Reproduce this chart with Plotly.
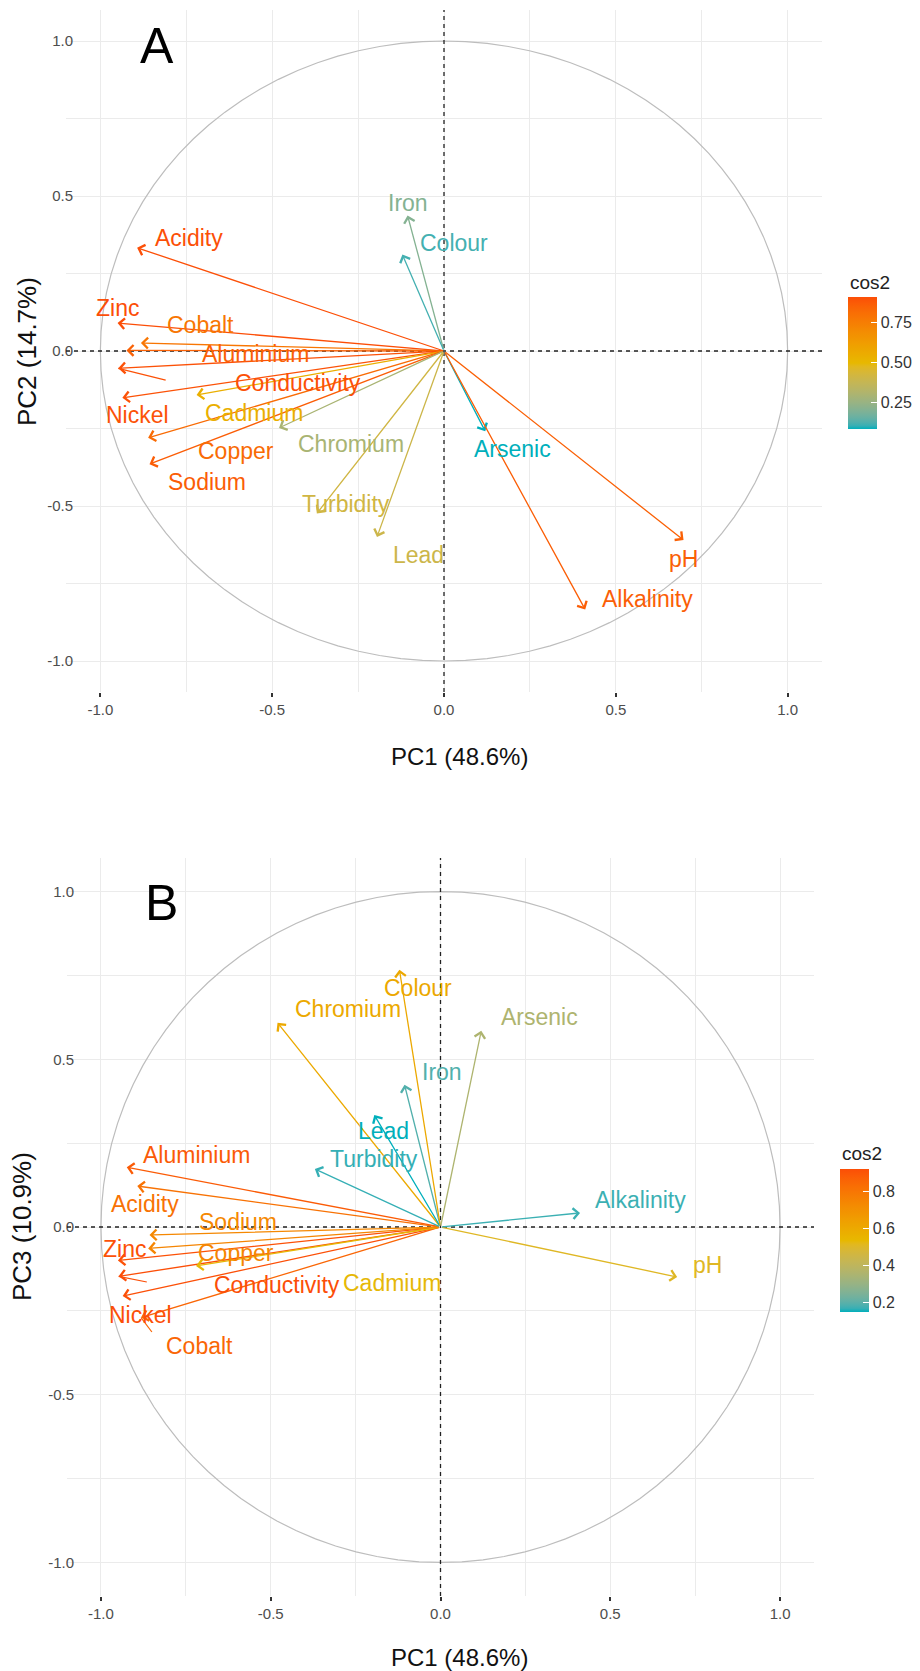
import numpy as np
import plotly.graph_objects as go

# ---------------- data ----------------
variables = ["Acidity", "Zinc", "Cobalt", "Aluminium", "Conductivity", "Nickel",
             "Cadmium", "Copper", "Sodium", "Chromium", "Turbidity", "Lead",
             "Iron", "Colour", "Arsenic", "pH", "Alkalinity"]
pc1 = [-0.893, -0.950, -0.882, -0.924, -0.948, -0.936, -0.720, -0.861, -0.857,
       -0.480, -0.370, -0.195, -0.106, -0.121, 0.120, 0.697, 0.411]
pc2 = [0.333, 0.090, 0.026, 0.002, -0.056, -0.151, -0.142, -0.280, -0.365,
       -0.248, -0.524, -0.600, 0.437, 0.311, -0.259, -0.610, -0.834]
pc3 = [0.122, -0.100, -0.270, 0.178, -0.147, -0.206, -0.116, -0.064, -0.024,
       0.609, 0.173, 0.334, 0.424, 0.767, 0.585, -0.149, 0.042]

# repelled label anchors (data units)
labA_x = [-0.743, -0.950, -0.708, -0.548, -0.426, -0.892, -0.554, -0.606, -0.691,
          -0.271, -0.286, -0.073, -0.105, 0.029, 0.198, 0.697, 0.592]
labA_y = [0.366, 0.139, 0.084, -0.010, -0.104, -0.207, -0.201, -0.324, -0.421,
          -0.301, -0.492, -0.657, 0.479, 0.350, -0.317, -0.670, -0.799]
labB_x = [-0.871, -0.932, -0.709, -0.718, -0.482, -0.885, -0.144, -0.603, -0.597,
          -0.271, -0.197, -0.168, 0.003, -0.065, 0.291, 0.785, 0.588]
labB_y = [0.069, -0.066, -0.355, 0.215, -0.173, -0.263, -0.167, -0.078, 0.015,
          0.651, 0.203, 0.287, 0.463, 0.713, 0.627, -0.113, 0.081]
# label connector segments (ggrepel): variable -> segment end
connA = {"Conductivity": (-0.81, -0.094)}
connB = {"Conductivity": (-0.865, -0.164), "Cobalt": (-0.85, -0.313)}

ticksA = [0.25, 0.50, 0.75]
ticksB = [0.2, 0.4, 0.6, 0.8]

grad = ["#00AFBB", "#E7B800", "#FC4E07"]

W, H = 920, 1671
FONT = "Liberation Sans, Arial, sans-serif"


# ---------------- colour helpers (Lab interpolation like ggplot) ----------------
def hex2rgb(h):
    h = h.lstrip("#")
    return [int(h[i:i + 2], 16) for i in (0, 2, 4)]


def rgb2lab(rgb):
    def lin(c):
        c = c / 255
        return c / 12.92 if c <= 0.04045 else ((c + 0.055) / 1.055) ** 2.4
    r, g, b = [lin(c) for c in rgb]
    X = (0.4124 * r + 0.3576 * g + 0.1805 * b) / 0.95047
    Y = (0.2126 * r + 0.7152 * g + 0.0722 * b)
    Z = (0.0193 * r + 0.1192 * g + 0.9505 * b) / 1.08883

    def f(t):
        return t ** (1 / 3) if t > 0.008856 else 7.787 * t + 16 / 116
    return [116 * f(Y) - 16, 500 * (f(X) - f(Y)), 200 * (f(Y) - f(Z))]


def lab2rgb(lab):
    L, a, b = lab
    fy = (L + 16) / 116
    fx = fy + a / 500
    fz = fy - b / 200

    def finv(t):
        return t ** 3 if t ** 3 > 0.008856 else (t - 16 / 116) / 7.787
    X, Y, Z = finv(fx) * 0.95047, finv(fy), finv(fz) * 1.08883
    r = 3.2406 * X - 1.5372 * Y - 0.4986 * Z
    g = -0.9689 * X + 1.8758 * Y + 0.0415 * Z
    bb = 0.0557 * X - 0.2040 * Y + 1.0570 * Z

    def gam(c):
        c = 12.92 * c if c <= 0.0031308 else 1.055 * c ** (1 / 2.4) - 0.055
        return int(round(min(max(c, 0), 1) * 255))
    return "rgb(%d,%d,%d)" % (gam(r), gam(g), gam(bb))


labs = [rgb2lab(hex2rgb(c)) for c in grad]


def colour_at(t):
    t = min(max(t, 0), 1)
    if t <= 0.5:
        a, b, u = labs[0], labs[1], t / 0.5
    else:
        a, b, u = labs[1], labs[2], (t - 0.5) / 0.5
    return lab2rgb([a[i] + (b[i] - a[i]) * u for i in range(3)])


colorscale = [[i / 40, colour_at(i / 40)] for i in range(41)]

# ---------------- geometry in pixels ----------------
panels = {
    "A": dict(xdom=(66, 822), ydom=(10, 692), xa="x", ya="y", xid="xaxis", yid="yaxis",
              comp=pc2, labx=labA_x, laby=labA_y, conn=connA, ticks=ticksA,
              cb=dict(x=848, y0=297, y1=429), cbt=(848, 283),
              xt=(459, 757), yt=(27, 352), letter=(157, 46), L="A",
              ytitle="PC2 (14.7%)"),
    "B": dict(xdom=(67, 814), ydom=(858, 1596), xa="x2", ya="y2", xid="xaxis2", yid="yaxis2",
              comp=pc3, labx=labB_x, laby=labB_y, conn=connB, ticks=ticksB,
              cb=dict(x=840, y0=1169, y1=1312), cbt=(840, 1153),
              xt=(459, 1657), yt=(22, 1227), letter=(161, 903), L="B",
              ytitle="PC3 (10.9%)"),
}

fig = go.Figure()
annotations = []
shapes = []
layout_axes = {}

theta = np.linspace(0, 2 * np.pi, 101)

for key, p in panels.items():
    xs = np.array(pc1)
    ys = np.array(p["comp"])
    cos2 = xs ** 2 + ys ** 2
    cmin, cmax = float(cos2.min()), float(cos2.max())
    cols = [colour_at((c - cmin) / (cmax - cmin)) for c in cos2]

    axis_common = dict(range=[-1.1, 1.1], showgrid=True, gridcolor="#EBEBEB", gridwidth=1.2,
                       zeroline=False, showline=False,
                       tickvals=[-1.0, -0.5, 0.0, 0.5, 1.0],
                       ticktext=["-1.0", "-0.5", "0.0", "0.5", "1.0"],
                       tickfont=dict(family=FONT, size=15, color="#4D4D4D"),
                       minor=dict(dtick=0.25, tick0=0, showgrid=True, gridcolor="#EBEBEB",
                                  gridwidth=1.0, ticks=""))
    layout_axes[p["xid"]] = dict(axis_common, domain=[p["xdom"][0] / W, p["xdom"][1] / W],
                                 anchor=p["ya"], ticks="outside", ticklen=4,
                                 tickcolor="#333333", tickwidth=1.5)
    layout_axes[p["yid"]] = dict(axis_common, domain=[1 - p["ydom"][1] / H, 1 - p["ydom"][0] / H],
                                 anchor=p["xa"], ticks="", ticklabelstandoff=-8)

    # unit circle
    fig.add_trace(go.Scatter(x=np.cos(theta), y=np.sin(theta), mode="lines",
                             line=dict(color="#BDBDBD", width=1.2),
                             xaxis=p["xa"], yaxis=p["ya"], hoverinfo="skip",
                             showlegend=False))

    # dashed reference lines
    for (x0, y0, x1, y1) in [(-1.1, 0, 1.1, 0), (0, -1.1, 0, 1.1)]:
        shapes.append(dict(type="line", xref=p["xa"], yref=p["ya"], x0=x0, y0=y0, x1=x1, y1=y1,
                           line=dict(color="#222222", width=1.3, dash="4px,4px"), layer="above"))

    # connectors
    for name, (ex, ey) in p["conn"].items():
        i = variables.index(name)
        fig.add_trace(go.Scatter(x=[xs[i], ex], y=[ys[i], ey], mode="lines",
                                 line=dict(color=cols[i], width=1.2),
                                 xaxis=p["xa"], yaxis=p["ya"], hoverinfo="skip",
                                 showlegend=False))

    # arrows
    for i, v in enumerate(variables):
        annotations.append(dict(x=xs[i], y=ys[i], ax=0, ay=0, xref=p["xa"], yref=p["ya"],
                                axref=p["xa"], ayref=p["ya"], text="", showarrow=True,
                                arrowhead=4, arrowsize=1.6, arrowwidth=1.3,
                                arrowcolor=cols[i], standoff=0, startstandoff=0))
    # labels
    for i, v in enumerate(variables):
        annotations.append(dict(x=p["labx"][i], y=p["laby"][i], xref=p["xa"], yref=p["ya"],
                                text=v, showarrow=False, xanchor="center", yanchor="middle",
                                font=dict(family=FONT, size=23, color=cols[i])))

    # colour bar
    cb = p["cb"]
    fig.add_trace(go.Scatter(
        x=[0], y=[0], mode="markers", xaxis=p["xa"], yaxis=p["ya"], hoverinfo="skip",
        showlegend=False,
        marker=dict(size=0.1, opacity=0, color=[cmin], cmin=cmin, cmax=cmax,
                    colorscale=colorscale, showscale=True,
                    colorbar=dict(x=cb["x"] / W, xanchor="left", xpad=0, ypad=0,
                                  y=1 - (cb["y0"] + cb["y1"]) / 2 / H, yanchor="middle",
                                  len=cb["y1"] - cb["y0"], lenmode="pixels",
                                  thickness=29, thicknessmode="pixels",
                                  outlinewidth=0, tickvals=p["ticks"],
                                  ticktext=["%.2f" % t if key == "A" else "%.1f" % t
                                            for t in p["ticks"]],
                                  ticks="inside", ticklen=6, tickcolor="white", tickwidth=1,
                                  tickfont=dict(family=FONT, size=16, color="#333333")))))
    annotations.append(dict(x=p["cbt"][0] / W, y=1 - p["cbt"][1] / H, xref="paper", yref="paper",
                            text="cos2", showarrow=False, xanchor="left", yanchor="middle",
                            font=dict(family=FONT, size=19, color="#222222")))

    # axis titles
    annotations.append(dict(x=p["xt"][0] / W, y=1 - p["xt"][1] / H, xref="paper", yref="paper",
                            text="PC1 (48.6%)", showarrow=False, xanchor="center",
                            yanchor="middle", font=dict(family=FONT, size=24, color="#111111")))
    annotations.append(dict(x=p["yt"][0] / W, y=1 - p["yt"][1] / H, xref="paper", yref="paper",
                            text=p["ytitle"], showarrow=False, textangle=-90,
                            xanchor="center", yanchor="middle",
                            font=dict(family=FONT, size=26, color="#111111")))
    # panel letter
    annotations.append(dict(x=p["letter"][0] / W, y=1 - p["letter"][1] / H, xref="paper",
                            yref="paper", text=p["L"], showarrow=False, xanchor="center",
                            yanchor="middle", font=dict(family=FONT, size=50, color="black")))

fig.update_layout(width=W, height=H, margin=dict(l=0, r=0, t=0, b=0),
                  paper_bgcolor="white", plot_bgcolor="white", showlegend=False,
                  annotations=annotations, shapes=shapes, **layout_axes)

fig.write_html("out.html", config={"displayModeBar": False},
               post_script="document.body.style.margin='0';"
                           "document.body.style.overflow='hidden';")
